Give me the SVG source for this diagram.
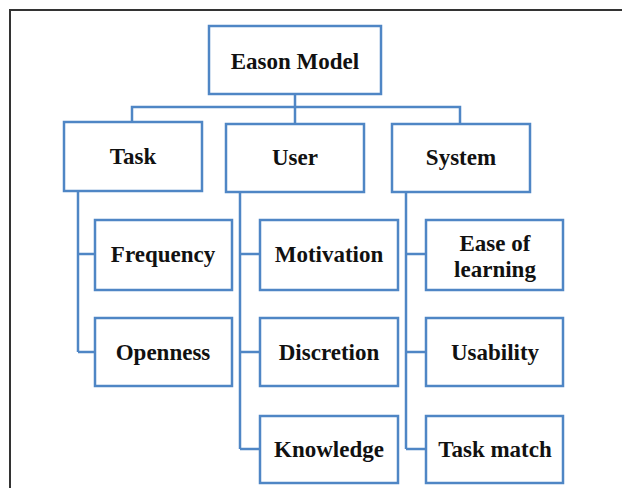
<svg xmlns="http://www.w3.org/2000/svg" width="622" height="488" viewBox="0 0 622 488">
<style>
.box{fill:#ffffff;stroke:#4f86c5;stroke-width:2.5}
.ln{fill:none;stroke:#4f86c5;stroke-width:2.5}
text{font-family:"Liberation Serif","Times New Roman",serif;font-weight:bold;font-size:23px;fill:#111;text-anchor:middle}
</style>
<rect x="0" y="0" width="622" height="488" fill="#ffffff"/>
<path d="M10,488 V10 H622" fill="none" stroke="#333" stroke-width="2"/>
<g id="connectors">
<path class="ln" d="M295,94 V107 M132,122 V107 H460 V124 M295,107 V124"/>
<path class="ln" d="M78,191 V352 M78,254 H95 M78,352 H95"/>
<path class="ln" d="M240,192 V449 M240,254 H260 M240,352 H260 M240,449 H260"/>
<path class="ln" d="M406,192 V449 M406,254 H426 M406,352 H426 M406,449 H426"/>
</g>
<g id="eason"><rect class="box" x="209" y="26" width="172" height="68"/><text x="295" y="69">Eason Model</text></g>
<g id="task"><rect class="box" x="64" y="122" width="138" height="69"/><text x="133" y="164">Task</text></g>
<g id="user"><rect class="box" x="226" y="124" width="138" height="68"/><text x="295" y="165">User</text></g>
<g id="system"><rect class="box" x="392" y="124" width="138" height="68"/><text x="461" y="165">System</text></g>
<g id="frequency"><rect class="box" x="95" y="220" width="137" height="70"/><text x="163" y="262">Frequency</text></g>
<g id="openness"><rect class="box" x="95" y="318" width="137" height="68"/><text x="163" y="360">Openness</text></g>
<g id="motivation"><rect class="box" x="260" y="220" width="138" height="70"/><text x="329" y="262">Motivation</text></g>
<g id="discretion"><rect class="box" x="260" y="318" width="138" height="68"/><text x="329" y="360">Discretion</text></g>
<g id="knowledge"><rect class="box" x="260" y="416" width="138" height="67"/><text x="329" y="457">Knowledge</text></g>
<g id="ease"><rect class="box" x="426" y="220" width="137" height="70"/><text x="495" y="251">Ease of</text><text x="495" y="277">learning</text></g>
<g id="usability"><rect class="box" x="426" y="318" width="137" height="68"/><text x="495" y="360">Usability</text></g>
<g id="taskmatch"><rect class="box" x="426" y="416" width="137" height="67"/><text x="495" y="457">Task match</text></g>
</svg>
